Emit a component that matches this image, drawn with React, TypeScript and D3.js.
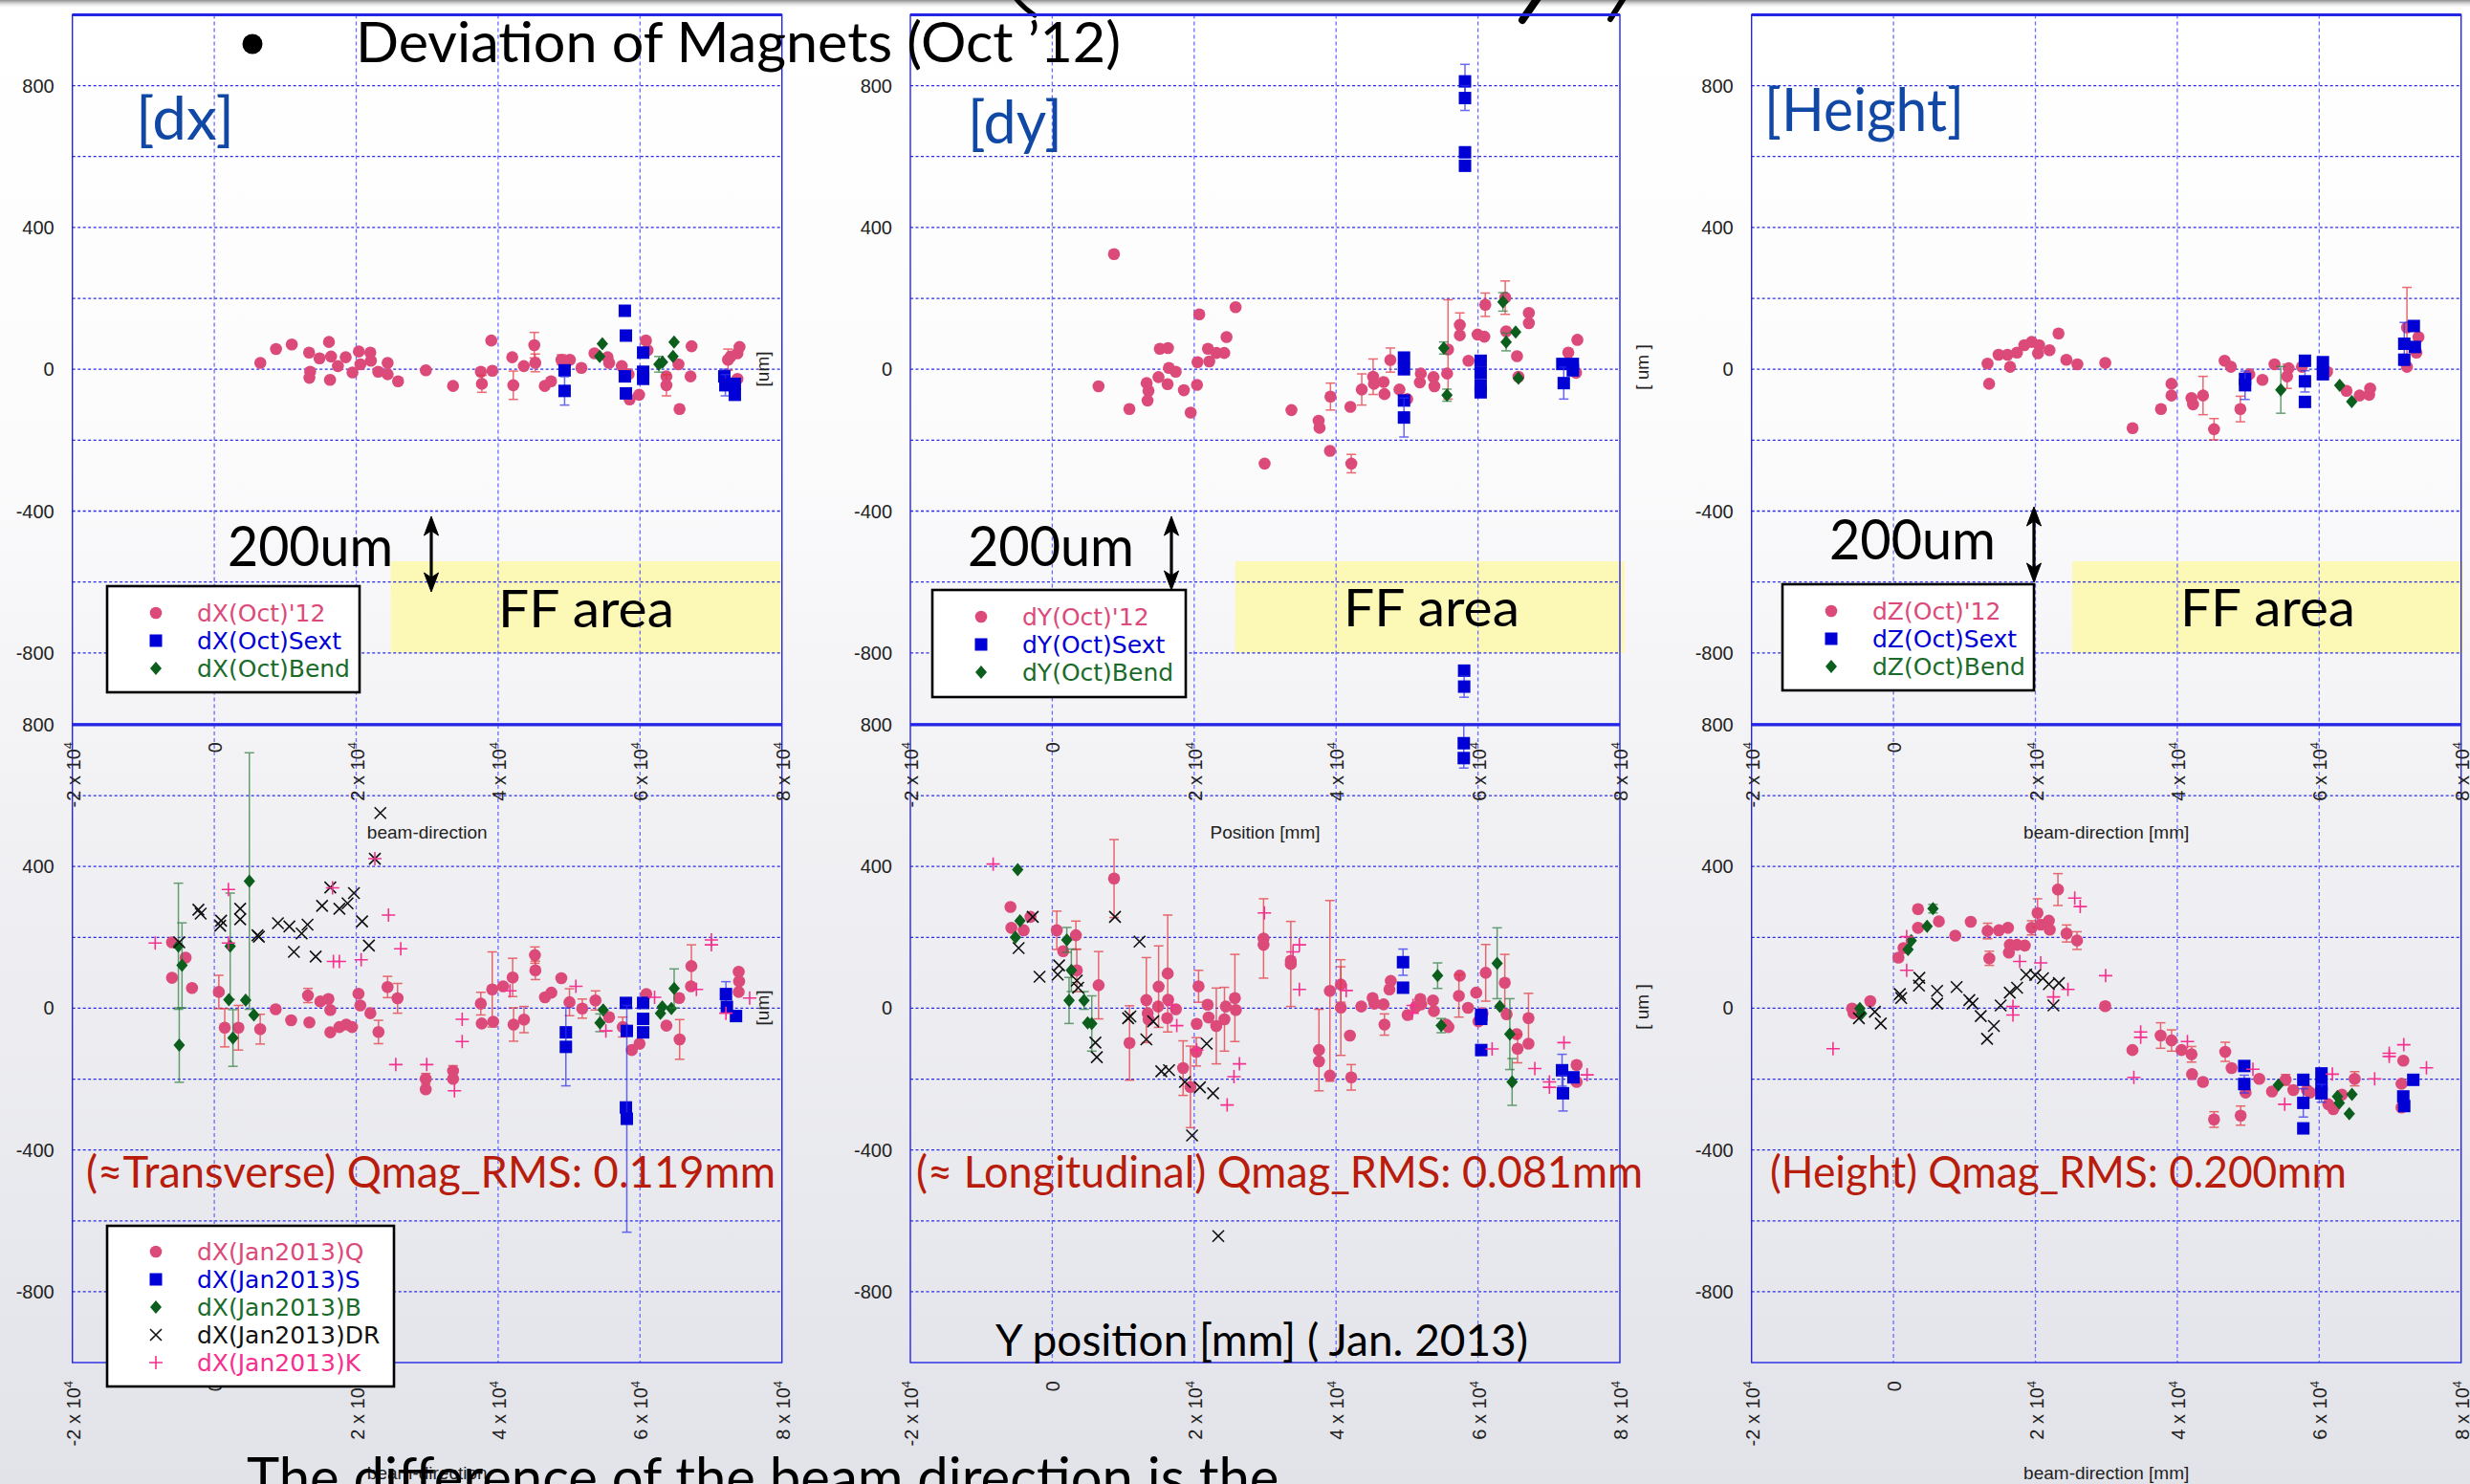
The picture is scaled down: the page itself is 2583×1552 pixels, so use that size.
import React from "react";
import * as d3 from "d3";

type Pt = [number, number, number?];

// ---------- survey values (beam-direction position [mm], deviation [um], error [um]) ----------

// October 2012, dX
const dxOctQ: Pt[] = [
  [6490, 18], [8700, 57], [10920, 70], [13360, 47], [13510, -7], [13400, -24], [14830, 31], [16160, 77],
  [16460, 36], [16310, -30], [17420, 9], [18520, 34], [19480, -9], [20370, 50], [20590, 14], [21990, 47],
  [22070, 24], [23100, -7], [24430, 18], [24430, -14], [25900, -34], [29820, -3], [33650, -47], [37560, -7],
  [37710, -41, 24], [39040, 81], [39190, -4], [41990, 34], [42140, -45, 40], [43620, 9], [45100, 68, 36],
  [45240, 18, 25], [46570, -47], [47460, -34], [48930, 27, 14], [50110, 27], [51740, 4], [53580, 45],
  [55430, 34], [55650, 18], [57430, 9], [58390, -14], [58540, -85], [59870, -72], [60830, 81, 10],
  [61060, 54], [63720, -20], [63720, -45, 30], [65420, 14], [65570, -112], [67120, -20], [67270, 65],
  [72400, 27, 30], [72770, 36], [73730, 45], [74030, 63], [73730, -27],
];
const dxOctS: Pt[] = [
  [49370, -3], [49370, -61, 40], [57860, 165], [58010, 95], [57860, -20, 15], [58010, -68], [60440, 47],
  [60440, -7], [60440, -27], [71880, -20, 20], [72030, -45, 30], [73360, -41], [73360, -72],
];
const dxOctB: Pt[] = [[54690, 72], [54320, 36], [62660, 14, 22], [63170, 20], [64650, 36], [64800, 77]];

// October 2012, dY
const dyOctQ: Pt[] = [
  [8700, 325], [6520, -48], [10870, -112], [13300, -39], [13560, -61], [13430, -88], [14970, -22], [15160, 58],
  [16310, 60], [16250, -42], [16440, 4], [17400, -7], [18550, -59], [19510, -122], [20400, -44], [20470, 20],
  [20720, 155], [21940, 58], [22130, 22], [23150, 46], [24240, 46], [24560, 91], [25840, 175], [29930, -266],
  [33710, -115], [37540, -145], [37670, -165], [39140, -230], [39210, -77, 38], [42150, -266, 26],
  [42020, -106], [43620, -57, 44], [45220, -21, 50], [45340, -41], [46690, -36], [46820, -70], [47650, 26, 34],
  [48930, -57], [50020, -84], [51940, -12], [51810, -37], [53730, -22], [53860, -48], [55780, 56, 140],
  [55650, -12], [57440, 125, 34], [57440, 96], [58660, 24], [59940, 98], [61030, 182, 33], [60900, 92],
  [63840, 202, 47], [63970, 107], [65500, 37], [65700, -21], [67170, 159], [67170, 130], [72730, 47],
  [74010, 83], [73820, -10],
];
const dyOctS: Pt[] = [
  [49570, 33], [49570, 0], [49570, -88], [49570, -136, 55], [60380, 24], [60380, -10], [60380, -45],
  [60380, -65, 10], [71890, 15], [72090, -39, 45], [73370, 15], [73370, -3], [58170, 812, 48],
  [58170, 765, 35], [58170, 612], [58170, 574], [58050, -850], [58050, -895, 30],
];
const dyOctB: Pt[] = [[55180, 60, 17], [55630, -73, 17], [63520, 190, 26], [63970, 77, 25], [65310, 105], [65700, -25]];

// October 2012, dZ
const dzOctQ: Pt[] = [
  [13260, 16], [13480, -41], [14810, 41], [16070, 41], [16440, 7], [17410, 47], [18440, 68], [19480, 77],
  [20520, 68], [20370, 45], [21990, 54], [23260, 101], [24370, 27], [25920, 14], [29850, 18], [33700, -166],
  [37700, -112], [39180, -41], [39180, -74], [42000, -81], [42220, -99], [43630, -74, 54], [45180, -169, 30],
  [46670, 24], [47560, 7], [48890, -112, 36], [50150, -14], [52000, -30], [53700, 14], [55480, -20, 34],
  [55700, 3], [57560, 7], [60520, 7], [61110, -7], [63850, -61], [65700, -74], [67040, -72], [67180, -54],
  [72370, 118, 113], [72370, 7], [73700, 47], [73990, 91],
];
const dzOctS: Pt[] = [
  [49550, -27], [49550, -45, 40], [57990, 24], [57990, -34, 30], [57990, -92], [60520, 20], [60520, -14],
  [71990, 72, 60], [71990, 27], [73330, 122], [73480, 63],
];
const dzOctB: Pt[] = [[54590, -58, 66], [62890, -45], [64590, -91]];

// January 2013, dX
const dxJanQ: Pt[] = [
  [-5960, 186], [-4040, 143], [-5960, 86], [-3140, 57], [640, 46, 47], [1470, -55, 54], [3400, -55, 63],
  [6470, -59, 42], [8650, -3], [10830, -34], [13200, 36, 20], [13400, -40], [14940, 19], [16090, 26],
  [16350, -5], [16350, -68], [17630, -53], [18600, -46], [19420, -53], [20320, 41], [20580, 8], [22000, -14],
  [23140, -67, 33], [24420, 60, 30], [25830, 28, 42], [37560, 13, 32], [37690, -43], [39170, 53, 106],
  [39300, -38], [40700, 62], [42050, 87, 54], [42180, -46, 47], [43650, -32, 37], [45190, 150, 23],
  [45250, 107, 26], [46600, 31], [47500, 44], [48910, 85], [50060, 17, 38], [51860, -1, 27], [53720, 22, 27],
  [55640, -25], [57560, -53, 28], [58840, -118], [59930, -100], [60890, 40], [63720, -49], [65520, 29],
  [65580, -88, 56], [67240, 119, 60], [67180, 62], [73910, 103], [73970, 76], [73910, 46], [29800, -199, 15],
  [29800, -229], [33650, -177, 15], [33650, -199],
];
const dxJanS: Pt[] = [
  [49550, -68], [49550, -109, 110], [58010, 15], [58140, -64], [58010, -280], [58140, -312, 320],
  [60440, 15], [60440, -30], [60440, -68], [72110, 40, 35], [72240, 4], [73530, -22],
];
const dxJanB: Pt[] = [
  [-5060, 175, 178], [-4550, 121, 120], [-4940, -104, 105], [2240, 175, 150], [2050, 24], [2630, -84, 80],
  [4940, 359, 362], [4420, 23], [5580, -19], [54810, -5], [54360, -41, 25], [62880, -14], [63140, 4],
  [64420, -1], [64810, 56, 55],
];
const dxJanDR: Pt[] = [
  [-4940, 186], [-2240, 278], [-1920, 267], [830, 233], [960, 247], [3650, 281], [3650, 251], [6090, 206],
  [6280, 202], [8970, 240], [10580, 231], [11220, 159], [12310, 211], [13140, 236], [14290, 146], [15190, 289],
  [16350, 341], [17630, 281], [18780, 296], [19680, 325], [20830, 245], [21790, 177], [22630, 422], [23400, 551],
];
const dxJanK: Pt[] = [
  [-8330, 184], [1990, 335], [1990, 184], [16670, 340], [16790, 132], [17630, 132], [20700, 137], [22630, 422],
  [24550, 263], [26280, 168], [25580, -159], [29940, -159], [33850, -233], [34940, -31], [34940, -94],
  [41670, 49], [50960, 62], [55190, -64], [62050, 31], [67950, 53], [70060, 193], [70060, 179], [72110, -14],
  [75450, 29],
];

// January 2013, dY
const dyJanQ: Pt[] = [
  [-5890, 286], [-5760, 227], [-4030, 220], [-3070, 258], [640, 220, 54], [1540, 161], [3330, 206, 40],
  [3460, 107, 60], [6530, 65, 95], [8710, 366, 110], [10890, -98, 105], [13260, 23, 120], [13450, -14],
  [13580, -32], [14920, 5], [14990, 61, 115], [16270, 98, 165], [16330, 24], [16200, -28], [17420, -3],
  [18440, -169, 77], [19470, -222, 115], [20300, -123, 40], [20360, -44], [20620, 62, 45], [21900, 10],
  [22030, -26], [23120, -50, 107], [24270, -31, 90], [24460, 5], [25740, 29, 123], [25870, -5],
  [29780, 197, 112], [29780, 179], [33620, 125, 120], [33620, 134], [37590, -118, 115], [37590, -150],
  [39130, 49, 255], [39130, -190], [40670, 67, 50], [40670, 2, 135], [41950, -77], [42140, -195, 36],
  [43550, 5], [45150, 29], [45400, 13], [46690, 11], [46820, -46, 30], [47520, 53], [47710, 77], [50080, -19],
  [51230, 4], [51870, 26], [52000, 11], [53660, 22], [53790, -8], [55520, -46], [55840, -53], [57440, 92],
  [57310, 35, 60], [58590, 1], [59750, 44], [60070, -37], [60640, -14], [61090, 100, 80], [63780, 72, 80],
  [64040, -17], [65450, -73], [65580, -114, 40], [67120, -28, 70], [67120, -100], [73900, -160], [73900, -208],
];
const dyJanS: Pt[] = [
  [49440, 130, 37], [49440, 58], [60460, -19], [60460, -30], [60460, -118], [71850, -175, 45],
  [71980, -240, 50], [73450, -195], [58000, 748, 70], [58000, 706],
];
const dyJanB: Pt[] = [
  [-4870, 391], [-4550, 247], [-5190, 200], [2050, 193, 35], [2690, 107, 60], [2370, 22, 65], [4480, 22, 25],
  [4990, -41], [5570, -43, 78], [54310, 92, 36], [54820, -49, 20], [62700, 127, 100], [63080, 5],
  [64490, -73, 100], [64810, -208, 66],
];
const dyJanDR: Pt[] = [
  [-4740, 170], [-2750, 258], [-1790, 89], [960, 121], [770, 95], [3460, 78], [3650, 58], [6080, -97],
  [6280, -138], [8840, 258], [12300, 188], [10690, -28], [11010, -23], [13260, -88], [14220, -37],
  [15370, -178], [16460, -175], [18700, -208], [20810, -223], [21770, -100], [22670, -240], [23400, -643],
  [19700, -359],
];
const dyJanK: Pt[] = [
  [-8330, 407], [29900, 269], [34830, 179], [33930, 159], [34830, 53], [41430, 50], [16910, 8], [17550, -49],
  [20360, -118], [25610, -193], [26380, -157], [24650, -273], [50850, 8], [50720, -14], [61990, -115],
  [68010, -170], [70070, -208], [70070, -223], [72120, -97], [75380, -188],
];

// January 2013, dZ
const dzJanQ: Pt[] = [
  [-5830, -1], [-5630, -14], [-3270, 20], [700, 143, 10], [1410, 170], [3460, 280], [3460, 227], [6400, 245],
  [8710, 205], [10890, 244], [13260, 218, 22], [13510, 141, 20], [14860, 220], [16140, 227], [16390, 179],
  [16270, 157], [17420, 179], [18510, 177], [19470, 227, 20], [20300, 269, 40], [20750, 236], [21900, 247],
  [22030, 222], [23180, 335, 45], [24400, 211, 24], [25870, 191, 25], [29840, 6, 10], [33680, -118],
  [37650, -77, 36], [39190, -91, 30], [40600, -118], [42010, -130, 22], [42080, -186], [43620, -208, 10],
  [46760, -123, 27], [47650, -169], [45180, -314, 22], [48930, -303, 27], [49630, -238], [51550, -199],
  [53350, -235], [55270, -202, 15], [56360, -231], [58270, -231], [58720, -238], [61280, -271], [61990, -285],
  [63200, -244], [65000, -199, 20], [71600, -213], [71860, -148], [71600, -280],
];
const dzJanS: Pt[] = [
  [49440, -163], [49440, -214, 25], [57760, -202], [57760, -267, 40], [57760, -339], [60320, -184],
  [60320, -215], [60320, -240, 25], [71850, -249], [71980, -276], [73260, -202],
];
const dzJanB: Pt[] = [
  [-4740, -1], [-4500, -15], [2050, 166], [2500, 191], [4740, 231], [5570, 281, 12], [54240, -217],
  [62570, -249], [62830, -267], [64240, -298], [64620, -243],
];
const dzJanDR: Pt[] = [
  [-4870, -28], [-2620, -10], [-1790, -43], [900, 40], [1090, 29], [3650, 86], [3590, 64], [6150, 49],
  [6150, 13], [8900, 60], [10690, 23], [11140, 13], [12300, -22], [13190, -86], [14150, -50], [15110, 8],
  [16390, 44], [17420, 58], [18700, 95], [19980, 94], [21070, 85], [21900, 68], [23310, 71], [22550, 8],
];
const dzJanK: Pt[] = [
  [-8520, -114], [1860, 202], [1860, 107], [16840, 5], [16840, -19], [17800, 132], [20750, 128], [22550, 32],
  [24590, 53], [25550, 311], [26320, 287], [29900, 92], [34840, -67], [34840, -82], [33880, -195],
  [41430, -94], [50660, -172], [55140, -271], [61860, -186], [67820, -199], [69870, -127], [69870, -136],
  [71920, -103], [75120, -168],
];

// ---------- axes ----------
const X_DOMAIN: [number, number] = [-20000, 80000];
const TOP_DOMAIN: [number, number] = [-1000, 1000];
const LOW_DOMAIN: [number, number] = [-1000, 800];
const X_GRID = [0, 20000, 40000, 60000];
const X_TICKS = [-20000, 0, 20000, 40000, 60000, 80000];
const Y_TICKS = [800, 400, 0, -400, -800];
const TOP_GRID = [800, 600, 400, 200, 0, -200, -400, -600, -800];
const LOW_GRID = [600, 400, 200, 0, -200, -400, -600, -800];

// ---------- styles ----------
const W = 2583;
const H = 1552;
const PW = 742;
const TOP_RANGE: [number, number] = [757, 15.4];
const LOW_RANGE: [number, number] = [1425, 758];
const AXIS_FONT = "'Liberation Sans', Arial, Helvetica, sans-serif";
const SLIDE_FONT = "Lato, 'Open Sans', sans-serif";
const LEGEND_FONT = "'DejaVu Sans', Verdana, sans-serif";

type Kind = "circle" | "square" | "diamond" | "cross" | "plus";
const STYLE: Record<string, { kind: Kind; color: string; err: string; text: string }> = {
  Q: { kind: "circle", color: "#dc4a7a", err: "#e5323c", text: "#dc4a7a" },
  S: { kind: "square", color: "#0000d6", err: "#3030ee", text: "#0000d6" },
  B: { kind: "diamond", color: "#0b5e1c", err: "#2f7d3f", text: "#1a6b2a" },
  DR: { kind: "cross", color: "#111111", err: "#111111", text: "#111111" },
  K: { kind: "plus", color: "#f5308e", err: "#f5308e", text: "#f5308e" },
};

function Mark({ kind, x, y, color }: { kind: Kind; x: number; y: number; color: string }) {
  switch (kind) {
    case "circle":
      return <circle cx={x} cy={y} r={6.3} fill={color} />;
    case "square":
      return <rect x={x - 6.5} y={y - 6.5} width={13} height={13} fill={color} />;
    case "diamond":
      return <path d={`M${x},${y - 7}L${x + 6},${y}L${x},${y + 7}L${x - 6},${y}Z`} fill={color} />;
    case "cross":
      return (
        <path d={`M${x - 6},${y - 6}L${x + 6},${y + 6}M${x - 6},${y + 6}L${x + 6},${y - 6}`} stroke={color} strokeWidth={1.6} />
      );
    default:
      return <path d={`M${x - 7},${y}L${x + 7},${y}M${x},${y - 7}L${x},${y + 7}`} stroke={color} strokeWidth={1.6} />;
  }
}

function Series({ data, kind, xs, ys }: { data: Pt[]; kind: string; xs: d3.ScaleLinear<number, number>; ys: d3.ScaleLinear<number, number> }) {
  const st = STYLE[kind];
  return (
    <g>
      {data.map(([xv, yv, e], i) => {
        const cx = xs(xv);
        const cy = ys(yv);
        return (
          <g key={i}>
            {e ? (
              <g stroke={st.err} strokeWidth={1.5} opacity={0.72}>
                <line x1={cx} x2={cx} y1={ys(yv - e)} y2={ys(yv + e)} />
                <line x1={cx - 5} x2={cx + 5} y1={ys(yv - e)} y2={ys(yv - e)} />
                <line x1={cx - 5} x2={cx + 5} y1={ys(yv + e)} y2={ys(yv + e)} />
              </g>
            ) : null}
            <Mark kind={st.kind} x={cx} y={cy} color={st.color} />
          </g>
        );
      })}
    </g>
  );
}

function tickLabel(v: number, x: number, yEnd: number, key: string | number) {
  return (
    <text key={key} transform={`translate(${x + 8},${yEnd}) rotate(-90)`} textAnchor="end" fontFamily={AXIS_FONT} fontSize={20} fill="#222">
      {v === 0 ? "0" : `${v / 10000} x 10`}
      {v === 0 ? null : (
        <tspan fontSize={13} dy={-8}>
          4
        </tspan>
      )}
    </text>
  );
}

function Frame({ left, ys, grid, y0, y1, id }: { left: number; ys: d3.ScaleLinear<number, number>; grid: number[]; y0: number; y1: number; id: string }) {
  const xs = d3.scaleLinear().domain(X_DOMAIN).range([left, left + PW]);
  return (
    <g>
      {grid.map((g) => (
        <line key={`h${id}${g}`} x1={left} x2={left + PW} y1={ys(g)} y2={ys(g)} stroke="#2a2ae8" strokeWidth={1.3} strokeDasharray="3,2.5" />
      ))}
      {X_GRID.map((g) => (
        <line key={`v${id}${g}`} x1={xs(g)} x2={xs(g)} y1={y0} y2={y1} stroke="#6b6bff" strokeWidth={1.3} strokeDasharray="4,3" />
      ))}
      <rect x={left} y={y0} width={PW} height={y1 - y0} fill="none" stroke="#2525e6" strokeWidth={1.4} />
      <line x1={left} x2={left + PW} y1={y0} y2={y0} stroke="#2525e6" strokeWidth={3} />
      {Y_TICKS.map((t) => (
        <text key={`yt${id}${t}`} x={left - 19} y={ys(t) + 7} textAnchor="end" fontFamily={AXIS_FONT} fontSize={20} fill="#222">
          {t}
        </text>
      ))}
    </g>
  );
}

type LegendEntry = { label: string; kind: string };

function Legend({ x, y, w, h, entries, rowStart }: { x: number; y: number; w: number; h: number; entries: LegendEntry[]; rowStart: number }) {
  return (
    <g>
      <rect x={x} y={y} width={w} height={h} fill="#ffffff" stroke="#000" strokeWidth={2.6} />
      {entries.map((e, i) => {
        const cy = y + rowStart + i * 29;
        const st = STYLE[e.kind];
        return (
          <g key={e.label}>
            <Mark kind={st.kind} x={x + 51} y={cy} color={st.color} />
            <text x={x + 94} y={cy + 9} fontFamily={LEGEND_FONT} fontSize={25} fill={st.text}>
              {e.label}
            </text>
          </g>
        );
      })}
    </g>
  );
}

function Arrow({ x, y0, y1 }: { x: number; y0: number; y1: number }) {
  return (
    <g fill="#000" stroke="#000">
      <line x1={x} x2={x} y1={y0 + 12} y2={y1 - 12} strokeWidth={3.2} />
      <path d={`M${x},${y0}L${x + 7.5},${y0 + 20}L${x},${y0 + 15}L${x - 7.5},${y0 + 20}Z`} strokeWidth={1} />
      <path d={`M${x},${y1}L${x + 7.5},${y1 - 20}L${x},${y1 - 15}L${x - 7.5},${y1 - 20}Z`} strokeWidth={1} />
    </g>
  );
}

type PanelDef = {
  id: string;
  left: number;
  top: { data: Pt[]; kind: string }[];
  low: { data: Pt[]; kind: string }[];
};

const PANELS: PanelDef[] = [
  {
    id: "x",
    left: 75.7,
    top: [
      { data: dxOctQ, kind: "Q" },
      { data: dxOctS, kind: "S" },
      { data: dxOctB, kind: "B" },
    ],
    low: [
      { data: dxJanQ, kind: "Q" },
      { data: dxJanS, kind: "S" },
      { data: dxJanB, kind: "B" },
      { data: dxJanDR, kind: "DR" },
      { data: dxJanK, kind: "K" },
    ],
  },
  {
    id: "y",
    left: 952,
    top: [
      { data: dyOctQ, kind: "Q" },
      { data: dyOctS, kind: "S" },
      { data: dyOctB, kind: "B" },
    ],
    low: [
      { data: dyJanQ, kind: "Q" },
      { data: dyJanS, kind: "S" },
      { data: dyJanB, kind: "B" },
      { data: dyJanDR, kind: "DR" },
      { data: dyJanK, kind: "K" },
    ],
  },
  {
    id: "z",
    left: 1831.7,
    top: [
      { data: dzOctQ, kind: "Q" },
      { data: dzOctS, kind: "S" },
      { data: dzOctB, kind: "B" },
    ],
    low: [
      { data: dzJanQ, kind: "Q" },
      { data: dzJanS, kind: "S" },
      { data: dzJanB, kind: "B" },
      { data: dzJanDR, kind: "DR" },
      { data: dzJanK, kind: "K" },
    ],
  },
];

const FF_BOXES = [
  { x: 408.6, w: 409.4 },
  { x: 1291.6, w: 407.4 },
  { x: 2167, w: 409 },
];

export default function App() {
  const yTop = d3.scaleLinear().domain(TOP_DOMAIN).range(TOP_RANGE);
  const yLow = d3.scaleLinear().domain(LOW_DOMAIN).range(LOW_RANGE);

  return (
    <svg width={W} height={H} viewBox={`0 0 ${W} ${H}`} style={{ position: "absolute", left: 0, top: 0, display: "block" }}>
      <defs>
        <linearGradient id="bg" x1="0" y1="0" x2="0" y2="1">
          <stop offset="0" stopColor="#ffffff" />
          <stop offset="0.28" stopColor="#fcfcfd" />
          <stop offset="0.55" stopColor="#f1f1f4" />
          <stop offset="1" stopColor="#e2e3e9" />
        </linearGradient>
        <linearGradient id="topShade" x1="0" y1="0" x2="0" y2="1">
          <stop offset="0" stopColor="#8c8c8c" />
          <stop offset="1" stopColor="#ffffff" stopOpacity={0} />
        </linearGradient>
        {PANELS.map((p) => (
          <React.Fragment key={p.id}>
            <clipPath id={`ct${p.id}`}>
              <rect x={p.left} y={TOP_RANGE[1]} width={PW} height={TOP_RANGE[0] - TOP_RANGE[1]} />
            </clipPath>
            <clipPath id={`cl${p.id}`}>
              <rect x={p.left} y={LOW_RANGE[1]} width={PW} height={LOW_RANGE[0] - LOW_RANGE[1]} />
            </clipPath>
          </React.Fragment>
        ))}
      </defs>

      <rect x={0} y={0} width={W} height={H} fill="url(#bg)" />
      <rect x={0} y={0} width={W} height={9} fill="url(#topShade)" />

      {/* remnants of the slide heading above the plots */}
      <g stroke="#000" strokeLinecap="round" fill="none">
        <path d="M1062,-2 Q1070,8 1082,16" strokeWidth={5} />
        <path d="M1608,-2 L1592,21" strokeWidth={8} />
        <path d="M1698,-2 L1684,20" strokeWidth={6} />
      </g>

      {/* FF area highlight */}
      {FF_BOXES.map((b, i) => (
        <rect key={`ff${i}`} x={b.x} y={587} width={b.w} height={96} fill="#fcf8b6" />
      ))}

      {PANELS.map((p) => {
        const xs = d3.scaleLinear().domain(X_DOMAIN).range([p.left, p.left + PW]);
        return (
          <g key={p.id}>
            <Frame left={p.left} ys={yLow} grid={LOW_GRID} y0={LOW_RANGE[1]} y1={LOW_RANGE[0]} id={`l${p.id}`} />
            <Frame left={p.left} ys={yTop} grid={TOP_GRID} y0={TOP_RANGE[1]} y1={TOP_RANGE[0]} id={`t${p.id}`} />
            {X_TICKS.map((t) => tickLabel(t, xs(t), 776, `tt${p.id}${t}`))}
            {X_TICKS.map((t) => tickLabel(t, xs(t), 1444, `bt${p.id}${t}`))}
            <g clipPath={`url(#ct${p.id})`}>
              {p.top.map((s) => (
                <Series key={s.kind} data={s.data} kind={s.kind} xs={xs} ys={yTop} />
              ))}
            </g>
            <g clipPath={`url(#cl${p.id})`}>
              {p.low.map((s) => (
                <Series key={s.kind} data={s.data} kind={s.kind} xs={xs} ys={yLow} />
              ))}
            </g>
          </g>
        );
      })}

      {/* axis titles */}
      <g fontFamily={AXIS_FONT} fontSize={19} fill="#222" textAnchor="middle">
        <text x={446.7} y={877}>beam-direction</text>
        <text x={1323} y={877}>Position [mm]</text>
        <text x={2202.7} y={877}>beam-direction [mm]</text>
        <text x={446.7} y={1547}>beam-direction</text>
        <text x={2202.7} y={1547}>beam-direction [mm]</text>
        <text transform="translate(804,386) rotate(-90)">[um]</text>
        <text transform="translate(804,1054) rotate(-90)">[um]</text>
        <text transform="translate(1724,384) rotate(-90)">[ um ]</text>
        <text transform="translate(1724,1053) rotate(-90)">[ um ]</text>
      </g>

      {/* slide title */}
      <circle cx={264} cy={46} r={10.5} fill="#000" />
      <text x={372} y={65} fontFamily={SLIDE_FONT} fontSize={58} fill="#000" textLength={800} lengthAdjust="spacingAndGlyphs">
        Deviation of Magnets (Oct ’12)
      </text>

      {/* panel tags */}
      <g fontFamily={SLIDE_FONT} fontSize={62} fill="#1148a6">
        <text x={142} y={146} textLength={103} lengthAdjust="spacingAndGlyphs">[dx]</text>
        <text x={1012} y={150} textLength={99} lengthAdjust="spacingAndGlyphs">[dy]</text>
        <text x={1845} y={137} textLength={209} lengthAdjust="spacingAndGlyphs">[Height]</text>
      </g>

      {/* scale arrows and FF labels */}
      <g fontFamily={SLIDE_FONT} fontSize={58} fill="#000">
        <text x={238} y={592} textLength={173} lengthAdjust="spacingAndGlyphs">200um</text>
        <text x={1012} y={592} textLength={174} lengthAdjust="spacingAndGlyphs">200um</text>
        <text x={1913} y={585} textLength={174} lengthAdjust="spacingAndGlyphs">200um</text>
      </g>
      <Arrow x={451} y0={540} y1={619} />
      <Arrow x={1225} y0={540} y1={617} />
      <Arrow x={2127} y0={530} y1={609} />
      <g fontFamily={SLIDE_FONT} fontSize={54} fill="#000">
        <text x={521} y={656} textLength={184} lengthAdjust="spacingAndGlyphs">FF area</text>
        <text x={1405} y={655} textLength={184} lengthAdjust="spacingAndGlyphs">FF area</text>
        <text x={2280} y={655} textLength={183} lengthAdjust="spacingAndGlyphs">FF area</text>
      </g>

      {/* legends */}
      <Legend x={112} y={613} w={264} h={111} rowStart={28} entries={[
        { label: "dX(Oct)'12", kind: "Q" },
        { label: "dX(Oct)Sext", kind: "S" },
        { label: "dX(Oct)Bend", kind: "B" },
      ]} />
      <Legend x={975} y={617} w={265} h={112} rowStart={28} entries={[
        { label: "dY(Oct)'12", kind: "Q" },
        { label: "dY(Oct)Sext", kind: "S" },
        { label: "dY(Oct)Bend", kind: "B" },
      ]} />
      <Legend x={1864} y={611} w={263} h={111} rowStart={28} entries={[
        { label: "dZ(Oct)'12", kind: "Q" },
        { label: "dZ(Oct)Sext", kind: "S" },
        { label: "dZ(Oct)Bend", kind: "B" },
      ]} />
      <Legend x={112} y={1282} w={300} h={168} rowStart={27} entries={[
        { label: "dX(Jan2013)Q", kind: "Q" },
        { label: "dX(Jan2013)S", kind: "S" },
        { label: "dX(Jan2013)B", kind: "B" },
        { label: "dX(Jan2013)DR", kind: "DR" },
        { label: "dX(Jan2013)K", kind: "K" },
      ]} />

      {/* RMS summaries */}
      <g fontFamily={SLIDE_FONT} fontSize={46} fill="#b81c0c">
        <text x={90} y={1242} textLength={721} lengthAdjust="spacingAndGlyphs">(≈Transverse) Qmag_RMS: 0.119mm</text>
        <text x={958} y={1242} textLength={760} lengthAdjust="spacingAndGlyphs">(≈ Longitudinal) Qmag_RMS: 0.081mm</text>
        <text x={1851} y={1242} textLength={603} lengthAdjust="spacingAndGlyphs">(Height) Qmag_RMS: 0.200mm</text>
      </g>
      <text x={1041} y={1418} fontFamily={SLIDE_FONT} fontSize={46} fill="#000" textLength={557} lengthAdjust="spacingAndGlyphs">
        Y position [mm] ( Jan.  2013)
      </text>

      {/* slide text continuing below */}
      <text x={258} y={1566} fontFamily={SLIDE_FONT} fontSize={58} fill="#000">
        The difference of the beam direction is the
      </text>
    </svg>
  );
}
